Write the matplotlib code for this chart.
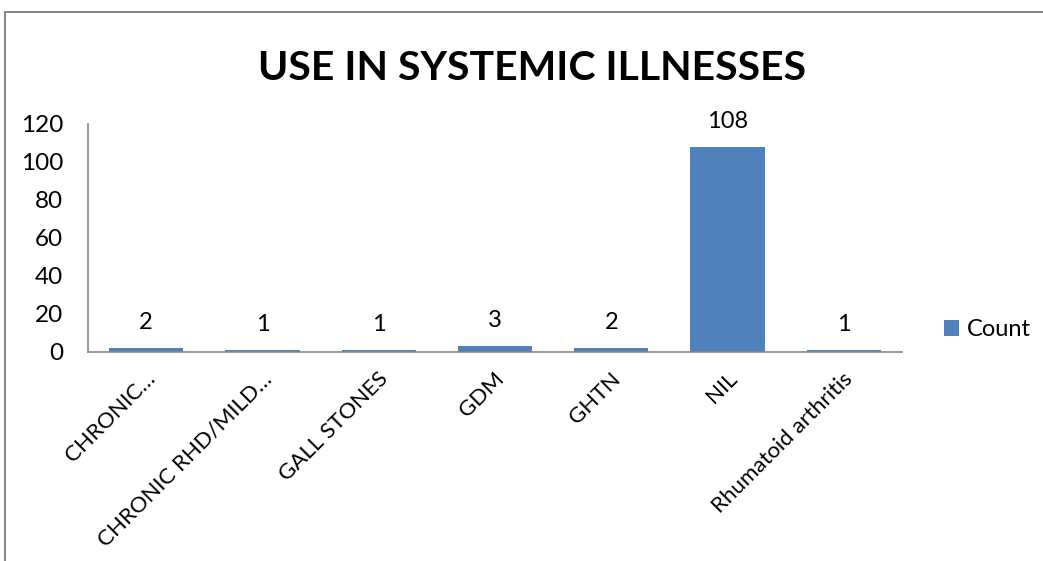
import matplotlib
matplotlib.use("Agg")
import matplotlib.pyplot as plt
import matplotlib.transforms as mtransforms
from matplotlib.patches import Rectangle

categories = ["CHRONIC…", "CHRONIC RHD/MILD…", "GALL STONES", "GDM",
              "GHTN", "NIL", "Rhumatoid arthritis"]
counts = [2, 1, 1, 3, 2, 108, 1]
yticks = [0, 20, 40, 60, 80, 100, 120]
title = "USE IN SYSTEMIC ILLNESSES"
series_name = "Count"

bar_color = "#4F81BD"
axis_color = "#868686"
font = ["Lato", "DejaVu Sans"]

W, H = 1043, 561
fig = plt.figure(figsize=(W / 100, H / 100), dpi=100)
fig.patch.set_facecolor("white")

# plot area in pixel coordinates
left, right, top, bottom = 88, 902, 124, 352
ax = fig.add_axes([left / W, 1 - bottom / H, (right - left) / W, (bottom - top) / H])

x = list(range(len(categories)))
bars = ax.bar(x, counts, width=0.64, color=bar_color, label=series_name, zorder=2)
ax.set_xlim(-0.5, len(categories) - 0.5)
ax.set_ylim(0, 120)
ax.set_yticks(yticks)
ax.set_yticklabels([str(v) for v in yticks], fontsize=17.5, family=font)
ax.set_xticks(x)
ax.set_xticklabels(categories, rotation=45, ha="right", rotation_mode="anchor",
                   fontsize=16, family=font)
ax.tick_params(axis="x", length=0, pad=12)
ax.tick_params(axis="y", length=0, pad=18)

# nudge the slanted category labels a little to the left
shift = mtransforms.ScaledTranslation(-1 / 100, 0, fig.dpi_scale_trans)
for lbl in ax.get_xticklabels():
    lbl.set_transform(lbl.get_transform() + shift)

for s in ["top", "right"]:
    ax.spines[s].set_visible(False)
for s in ["left", "bottom"]:
    ax.spines[s].set_color(axis_color)
    ax.spines[s].set_linewidth(1.2)

for xi, v in zip(x, counts):
    ax.annotate(str(v), (xi, v), xytext=(0, 11), textcoords="offset points",
                ha="center", va="bottom", fontsize=17, family=font)

fig.text(532 / W, 1 - 68 / H, title, ha="center", va="center",
         fontsize=29.5, fontweight="bold", family=font)

leg = fig.legend(handles=[bars], labels=[series_name], loc="center left",
                 bbox_to_anchor=(944 / W, 1 - 330 / H), frameon=False,
                 prop={"family": font, "size": 17}, handlelength=0.65,
                 handleheight=0.65, handletextpad=0.3, borderpad=0, borderaxespad=0)

# chart border
fig.patches.append(Rectangle((5 / W, -0.05), 1.05, 1 - 12 / H + 0.05,
                             transform=fig.transFigure, fill=False,
                             edgecolor=axis_color, linewidth=1.5))

fig.savefig("out.png", dpi=100)
